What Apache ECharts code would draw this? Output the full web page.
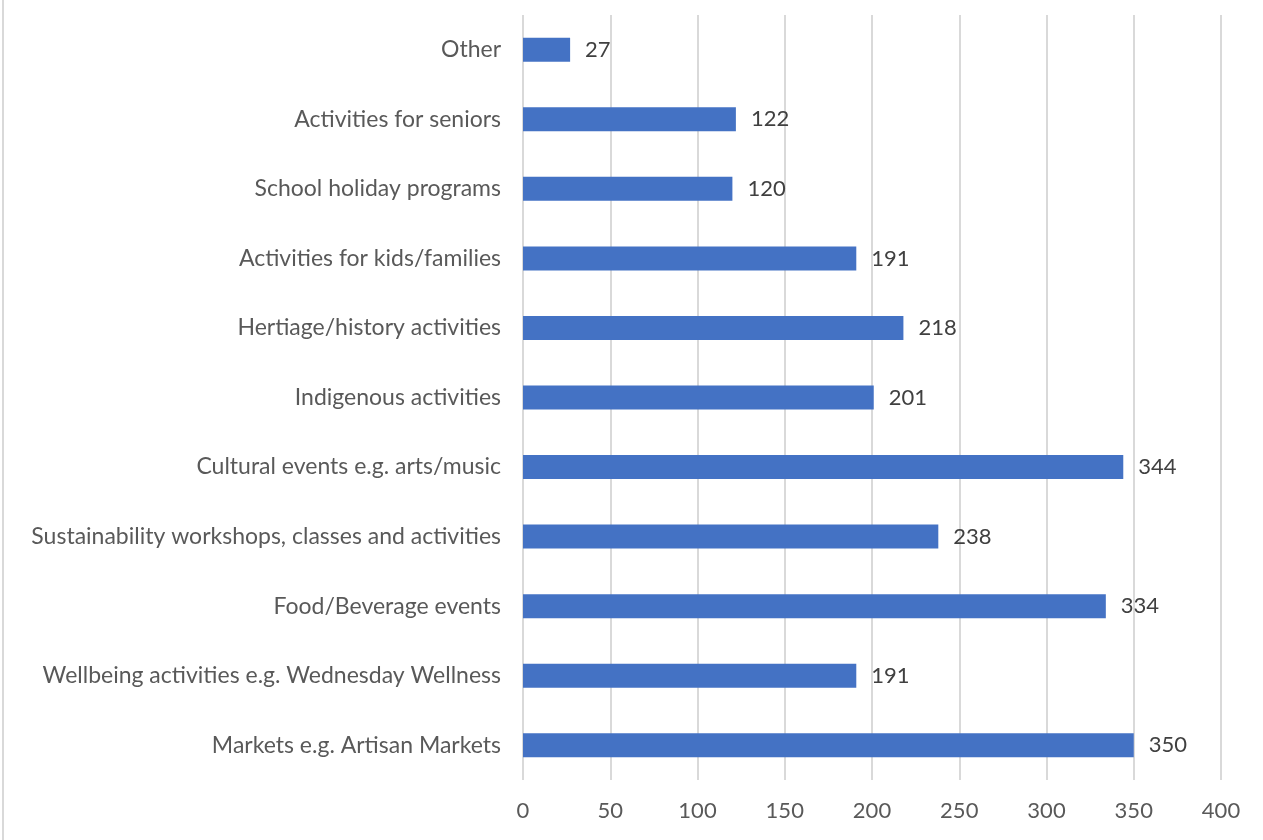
<!DOCTYPE html>
<html><head><meta charset="utf-8">
<script src="https://cdn.jsdelivr.net/npm/echarts@6/dist/echarts.min.js"></script>
<style>html,body{margin:0;padding:0;background:#fff}#c{width:1263px;height:840px}</style>
</head><body><div id="c"></div>
<script>
const categories = ["Other","Activities for seniors","School holiday programs","Activities for kids/families","Hertiage/history activities","Indigenous activities","Cultural events e.g. arts/music","Sustainability workshops, classes and activities","Food/Beverage events","Wellbeing activities e.g. Wednesday Wellness","Markets e.g. Artisan Markets"];
const values = [27,122,120,191,218,201,344,238,334,191,350];
const xTicks = [0,400,50];
const chart = echarts.init(document.getElementById('c'), null, {renderer:'canvas'});
const FONT = 'Lato';
chart.setOption({
  animation:false,
  backgroundColor:'#fff',
  grid:{left:523,right:42,top:15,bottom:60,containLabel:false},
  graphic:[{type:'line',shape:{x1:3,y1:0,x2:3,y2:840},style:{stroke:'#d9d9d9',lineWidth:2}}],
  xAxis:{type:'value',min:xTicks[0],max:xTicks[1],interval:xTicks[2],
    axisLine:{show:false},axisTick:{show:false},
    splitLine:{lineStyle:{color:'#d9d9d9',width:2}},
    axisLabel:{color:'#595959',fontSize:22,fontFamily:FONT,margin:20}},
  yAxis:{type:'category',data:categories,inverse:true,
    axisLine:{show:false},axisTick:{show:false},
    axisLabel:{color:'#595959',fontSize:23,fontFamily:FONT,margin:22}},
  series:[{type:'bar',data:values,barWidth:24,
    itemStyle:{color:'#4472C4'},
    label:{show:true,position:'right',distance:15,color:'#404040',fontSize:22,fontFamily:FONT}}]
});
</script></body></html>
